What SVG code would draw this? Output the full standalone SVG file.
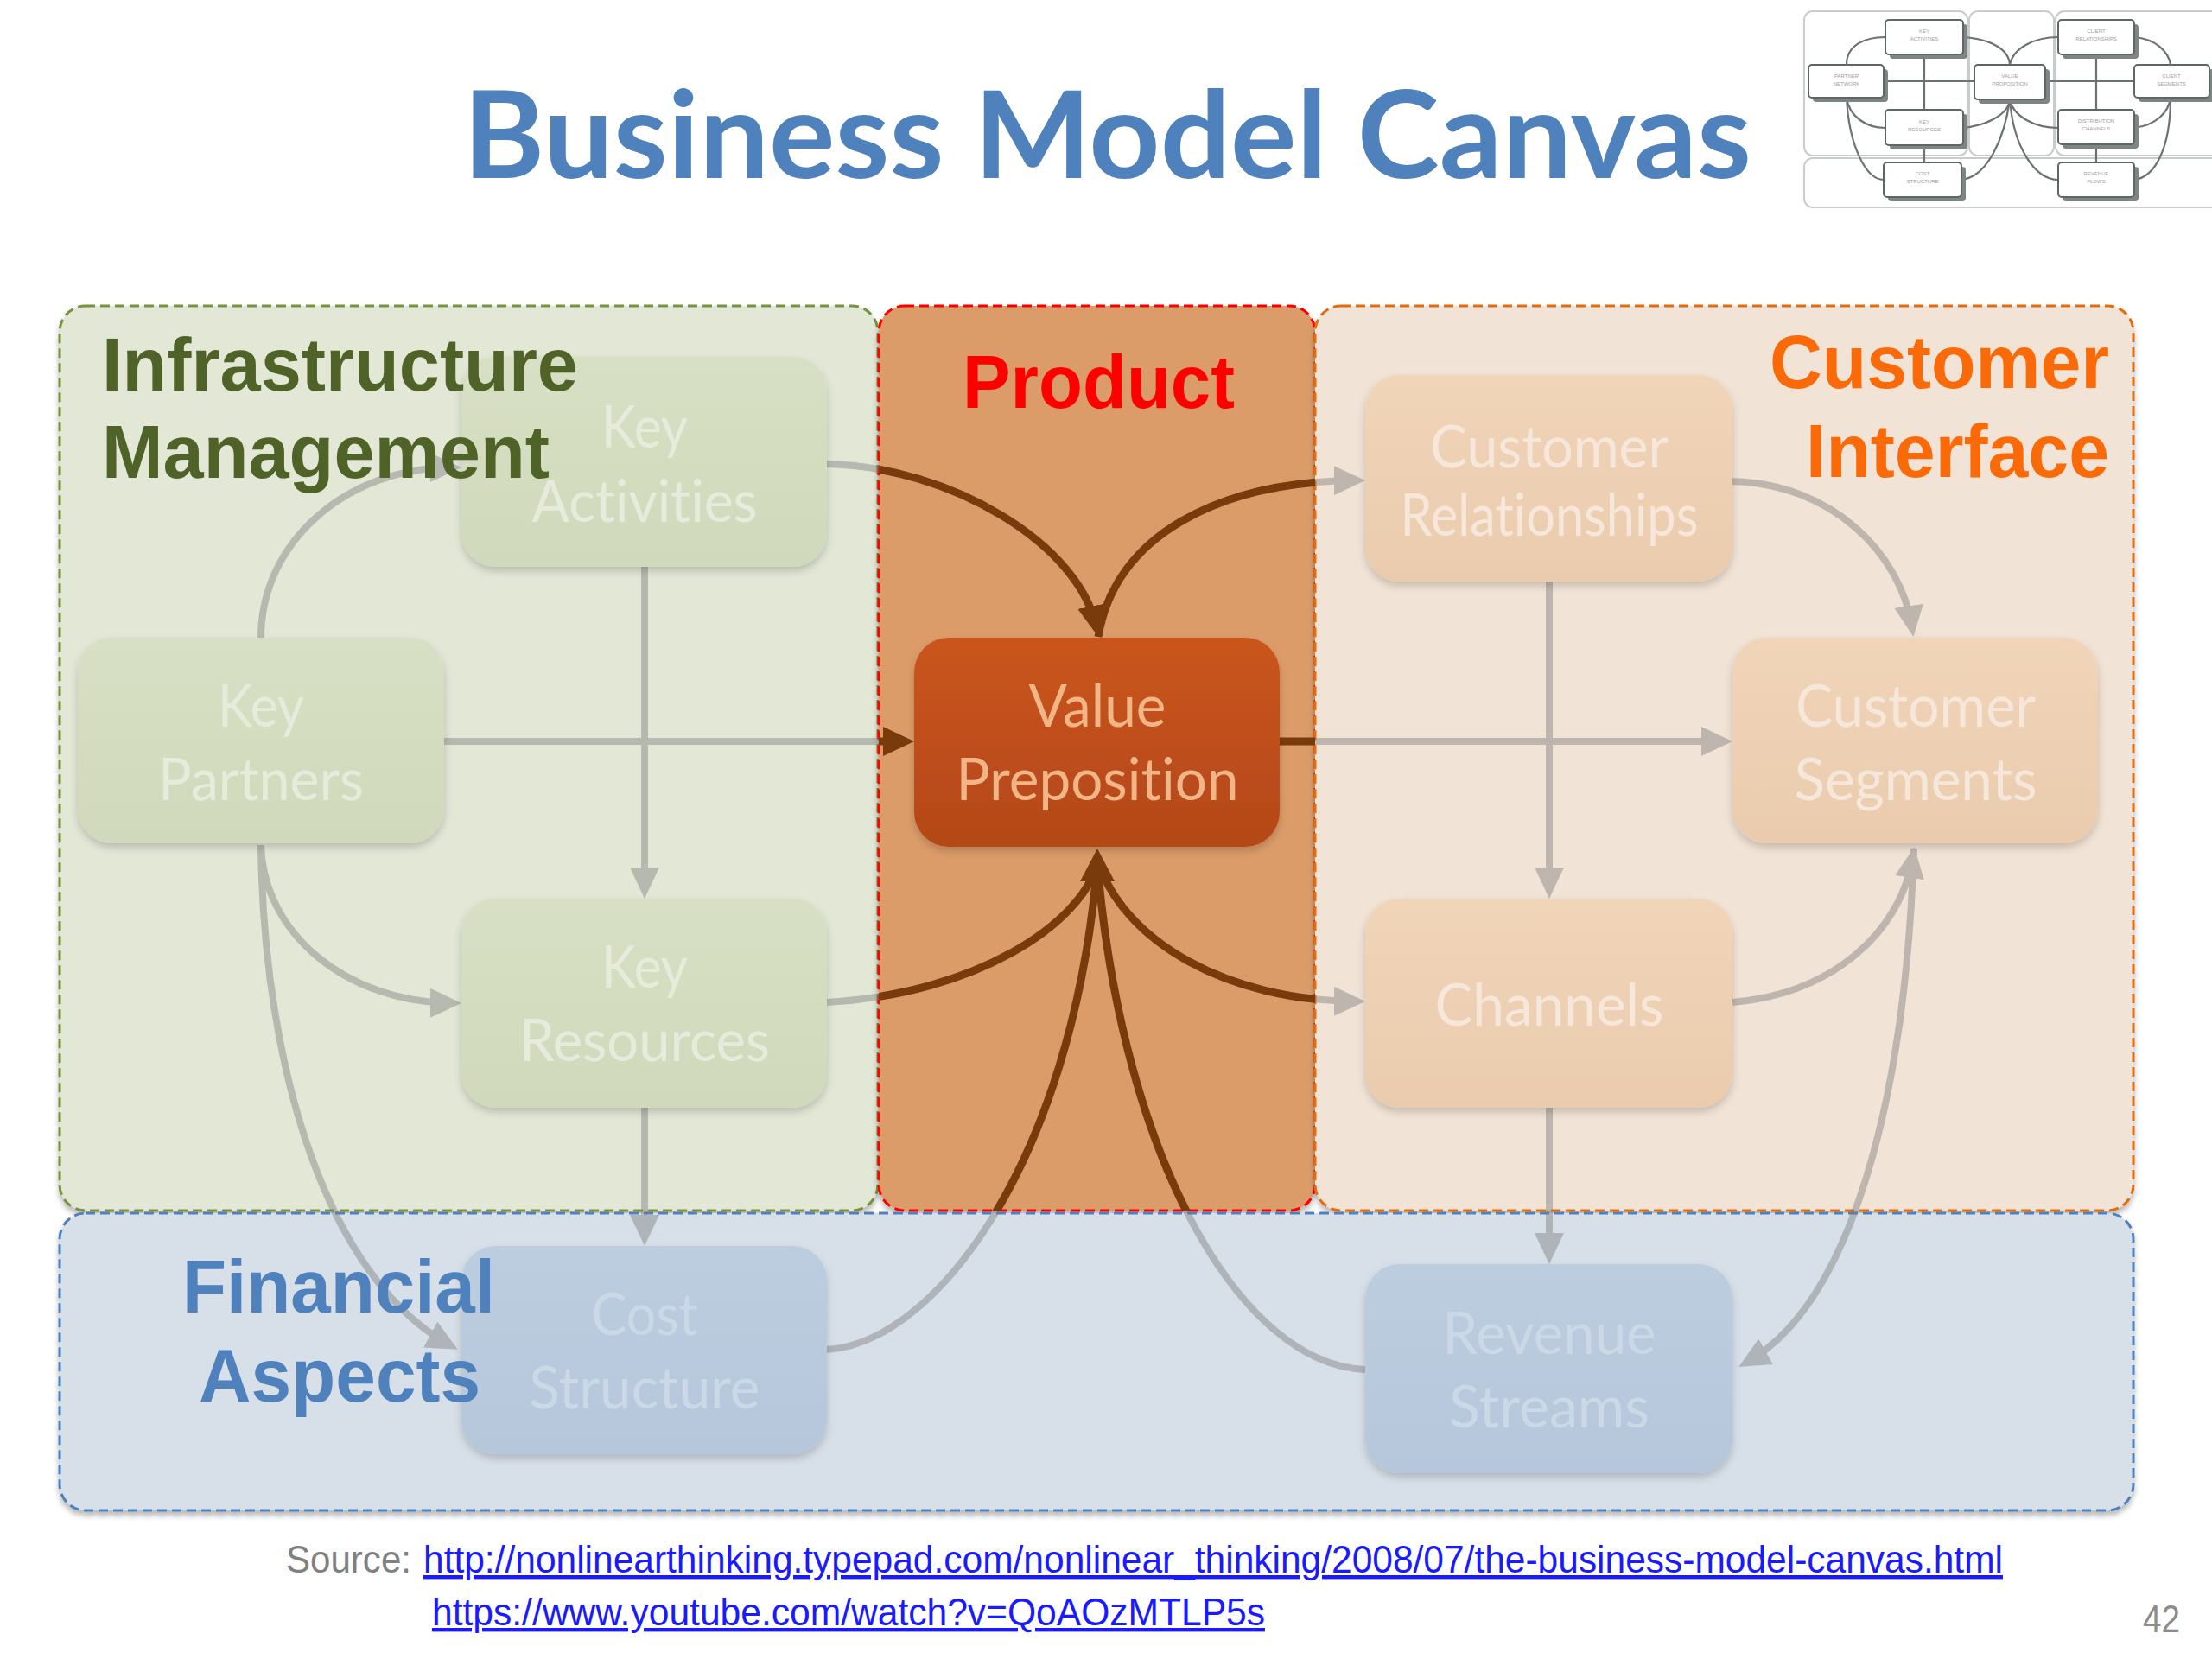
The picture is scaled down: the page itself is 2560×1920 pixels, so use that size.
<svg xmlns="http://www.w3.org/2000/svg" xmlns:xlink="http://www.w3.org/1999/xlink" width="2560" height="1920" viewBox="0 0 2560 1920">
<style>
.title{font-family:Lato,"Open Sans","Liberation Sans",sans-serif;font-weight:700;font-size:140px;fill:#4f81bd}
.head{font-family:"Liberation Sans",Arial,sans-serif;font-weight:700;font-size:88px}
.lbl{font-family:Lato,"Open Sans","Liberation Sans",sans-serif;font-weight:400;font-size:68px;text-anchor:middle;font-variant-ligatures:none}
.g-lbl{fill:#e6ebdb}
.o-lbl{fill:#f6e7da}
.b-lbl{fill:#cbd8e6}
.v-lbl{fill:#f1b586}
.panel{stroke-width:3;stroke-dasharray:11 6}
.foot{font-family:"Liberation Sans",Arial,sans-serif;font-size:44px}
.mini{fill:#ffffff;stroke:#5e6666;stroke-width:2}
.minish{fill:#7d8585}
.minitx{font-family:"Liberation Sans",Arial,sans-serif;font-size:6px;fill:#9aa0a0;text-anchor:middle}
.frame{fill:#ffffff;stroke:#c8cccc;stroke-width:2}
.mc{fill:none;stroke:#6b7272;stroke-width:2.2}
</style>
<defs>
<filter id="pshadow" x="-5%" y="-5%" width="110%" height="115%">
<feDropShadow dx="0" dy="5" stdDeviation="3" flood-color="#000" flood-opacity="0.28"/>
</filter>
<filter id="nshadow" x="-10%" y="-10%" width="120%" height="130%">
<feDropShadow dx="0" dy="5" stdDeviation="5" flood-color="#000" flood-opacity="0.18"/>
</filter>
<linearGradient id="gVP" x1="0" y1="0" x2="0" y2="1"><stop offset="0" stop-color="#ca551f"/><stop offset="1" stop-color="#b44818"/></linearGradient>
<linearGradient id="gGreen" x1="0" y1="0" x2="0" y2="1"><stop offset="0" stop-color="#d7e0c4"/><stop offset="1" stop-color="#d0d9bb"/></linearGradient>
<linearGradient id="gOr" x1="0" y1="0" x2="0" y2="1"><stop offset="0" stop-color="#f1d5b9"/><stop offset="1" stop-color="#eacbae"/></linearGradient>
<linearGradient id="gBlue" x1="0" y1="0" x2="0" y2="1"><stop offset="0" stop-color="#bccde0"/><stop offset="1" stop-color="#b6c7db"/></linearGradient>
<clipPath id="prodClip"><rect x="1017" y="354" width="505" height="1047" rx="30"/></clipPath>
<marker id="ag" markerUnits="userSpaceOnUse" markerWidth="36" markerHeight="34" viewBox="0 0 36 34" refX="26" refY="17" orient="auto"><path d="M0,0 L36,17 L0,34 z" fill="#7a7a7a"/></marker>
<marker id="ab" markerUnits="userSpaceOnUse" markerWidth="36" markerHeight="34" viewBox="0 0 36 34" refX="26" refY="17" orient="auto"><path d="M0,0 L36,17 L0,34 z" fill="#7a3b0c"/></marker>
<path id="c_kp_ka" d="M 302 738 C 302 628 400 541 524 541"/>
<path id="c_ka_vp" d="M 957 537 C 1100 540 1250 630 1269 727"/>
<path id="c_vp_cr" d="M 1271 737 C 1290 620 1410 557 1570 556"/>
<path id="c_kp_vp" d="M 514 858 L 1048 858"/>
<path id="c_vp_cs" d="M 1481 858 L 1995 858"/>
<path id="c_ka_kr" d="M 746 656 L 746 1030"/>
<path id="c_cr_ch" d="M 1793 673 L 1793 1030"/>
<path id="c_cr_cs" d="M 2005 557 C 2120 560 2200 640 2213 727"/>
<path id="c_kp_kr" d="M 302 978 C 305 1080 400 1160 524 1161"/>
<path id="c_kp_cost" d="M 302 978 C 305 1240 380 1480 521 1557"/>
<path id="c_kr_vp" d="M 957 1160 C 1130 1150 1250 1070 1270 1000"/>
<path id="c_vp_ch" d="M 1270 995 C 1300 1090 1420 1158 1570 1159"/>
<path id="c_cost_vp" d="M 957 1562 C 1080 1555 1240 1350 1270 1000"/>
<path id="c_rs_vp" d="M 1580 1585 C 1440 1580 1300 1350 1270 1000"/>
<path id="c_ch_cs" d="M 2005 1160 C 2120 1150 2200 1080 2214 990"/>
<path id="c_cs_rs" d="M 2215 982 C 2205 1280 2140 1510 2021 1577"/>
<path id="c_ch_rs" d="M 1793 1282 L 1793 1453"/>
<path id="c_kr_cost" d="M 746 1282 L 746 1432"/>
</defs>

<rect x="0" y="0" width="2560" height="1920" fill="#ffffff"/>

<g id="panels">
<rect id="panel-infrastructure" class="panel" x="69" y="354" width="947" height="1047" rx="30" fill="#e2e7d6" stroke="#77933c" filter="url(#pshadow)"/>
<rect id="panel-product" class="panel" x="1017" y="354" width="505" height="1047" rx="30" fill="#dc9c69" stroke="#ff0000" filter="url(#pshadow)"/>
<rect id="panel-customer" class="panel" x="1522" y="354" width="947" height="1047" rx="30" fill="#f1e3d5" stroke="#e46c0a" filter="url(#pshadow)"/>
<rect id="panel-financial" class="panel" x="69" y="1404" width="2400" height="344" rx="30" fill="#d7dfe8" stroke="#4f81bd" filter="url(#pshadow)"/>
</g>

<g id="connectors" fill="none">
<g id="connectors-gray" opacity="0.42" stroke="#7a7a7a" stroke-width="8">
<use xlink:href="#c_kp_ka" marker-end="url(#ag)"/>
<use xlink:href="#c_ka_vp" marker-end="url(#ag)"/>
<use xlink:href="#c_vp_cr" marker-end="url(#ag)"/>
<use xlink:href="#c_kp_vp" marker-end="url(#ag)"/>
<use xlink:href="#c_vp_cs" marker-end="url(#ag)"/>
<use xlink:href="#c_ka_kr" marker-end="url(#ag)"/>
<use xlink:href="#c_cr_ch" marker-end="url(#ag)"/>
<use xlink:href="#c_cr_cs" marker-end="url(#ag)"/>
<use xlink:href="#c_kp_kr" marker-end="url(#ag)"/>
<use xlink:href="#c_kp_cost" marker-end="url(#ag)"/>
<use xlink:href="#c_kr_vp"/>
<use xlink:href="#c_vp_ch" marker-end="url(#ag)"/>
<use xlink:href="#c_cost_vp"/>
<use xlink:href="#c_rs_vp"/>
<use xlink:href="#c_ch_cs" marker-end="url(#ag)"/>
<use xlink:href="#c_cs_rs" marker-end="url(#ag)"/>
<use xlink:href="#c_ch_rs" marker-end="url(#ag)"/>
<use xlink:href="#c_kr_cost" marker-end="url(#ag)"/>
</g>
<g id="connectors-brown" clip-path="url(#prodClip)" stroke="#7a3b0c" stroke-width="9">
<use xlink:href="#c_ka_vp" marker-end="url(#ab)"/>
<use xlink:href="#c_vp_cr"/>
<use xlink:href="#c_kp_vp" marker-end="url(#ab)"/>
<use xlink:href="#c_vp_cs"/>
<use xlink:href="#c_kr_vp"/>
<use xlink:href="#c_vp_ch"/>
<use xlink:href="#c_cost_vp"/>
<use xlink:href="#c_rs_vp"/>
<path d="M 1270 982 L 1290 1020 L 1250 1020 Z" fill="#7a3b0c" stroke="none"/>
</g>
</g>

<g id="node-key-activities" filter="url(#nshadow)">
<rect x="534" y="413" width="423" height="243" rx="40" fill="url(#gGreen)"/>
<text class="lbl g-lbl" x="746" y="518" textLength="100" lengthAdjust="spacingAndGlyphs">Key</text>
<text class="lbl g-lbl" x="746" y="604" textLength="261" lengthAdjust="spacingAndGlyphs">Activities</text>
</g>
<g id="node-key-partners" filter="url(#nshadow)">
<rect x="90" y="738" width="424" height="238" rx="40" fill="url(#gGreen)"/>
<text class="lbl g-lbl" x="302" y="841" textLength="100" lengthAdjust="spacingAndGlyphs">Key</text>
<text class="lbl g-lbl" x="302" y="926" textLength="238" lengthAdjust="spacingAndGlyphs">Partners</text>
</g>
<g id="node-key-resources" filter="url(#nshadow)">
<rect x="534" y="1040" width="423" height="242" rx="40" fill="url(#gGreen)"/>
<text class="lbl g-lbl" x="746" y="1143" textLength="100" lengthAdjust="spacingAndGlyphs">Key</text>
<text class="lbl g-lbl" x="746" y="1228" textLength="290" lengthAdjust="spacingAndGlyphs">Resources</text>
</g>
<g id="node-value-preposition" filter="url(#nshadow)">
<rect x="1058" y="738" width="423" height="242" rx="40" fill="url(#gVP)"/>
<text class="lbl v-lbl" x="1270" y="841" textLength="159" lengthAdjust="spacingAndGlyphs">Value</text>
<text class="lbl v-lbl" x="1270" y="926" textLength="327" lengthAdjust="spacingAndGlyphs">Preposition</text>
</g>
<g id="node-customer-relationships" filter="url(#nshadow)">
<rect x="1580" y="434" width="425" height="239" rx="40" fill="url(#gOr)"/>
<text class="lbl o-lbl" x="1793" y="541" textLength="276" lengthAdjust="spacingAndGlyphs">Customer</text>
<text class="lbl o-lbl" x="1793" y="620" textLength="345" lengthAdjust="spacingAndGlyphs">Relationships</text>
</g>
<g id="node-customer-segments" filter="url(#nshadow)">
<rect x="2005" y="738" width="423" height="238" rx="40" fill="url(#gOr)"/>
<text class="lbl o-lbl" x="2217" y="841" textLength="278" lengthAdjust="spacingAndGlyphs">Customer</text>
<text class="lbl o-lbl" x="2217" y="926" textLength="281" lengthAdjust="spacingAndGlyphs">Segments</text>
</g>
<g id="node-channels" filter="url(#nshadow)">
<rect x="1580" y="1040" width="425" height="242" rx="40" fill="url(#gOr)"/>
<text class="lbl o-lbl" x="1793" y="1187" textLength="265" lengthAdjust="spacingAndGlyphs">Channels</text>
</g>
<g id="node-cost-structure" filter="url(#nshadow)">
<rect x="534" y="1442" width="423" height="241" rx="40" fill="url(#gBlue)"/>
<text class="lbl b-lbl" x="746" y="1545" textLength="123" lengthAdjust="spacingAndGlyphs">Cost</text>
<text class="lbl b-lbl" x="746" y="1630" textLength="267" lengthAdjust="spacingAndGlyphs">Structure</text>
</g>
<g id="node-revenue-streams" filter="url(#nshadow)">
<rect x="1580" y="1463" width="425" height="242" rx="40" fill="url(#gBlue)"/>
<text class="lbl b-lbl" x="1793" y="1567" textLength="247" lengthAdjust="spacingAndGlyphs">Revenue</text>
<text class="lbl b-lbl" x="1793" y="1652" textLength="232" lengthAdjust="spacingAndGlyphs">Streams</text>
</g>

<g id="headings">
<text class="head" fill="#4f6228" x="118" y="452" textLength="551" lengthAdjust="spacingAndGlyphs">Infrastructure</text>
<text class="head" fill="#4f6228" x="118" y="553" textLength="518" lengthAdjust="spacingAndGlyphs">Management</text>
<text class="head" fill="#ff0000" x="1114" y="472" textLength="315" lengthAdjust="spacingAndGlyphs">Product</text>
<text class="head" fill="#fb6a08" x="2048" y="449" textLength="393" lengthAdjust="spacingAndGlyphs">Customer</text>
<text class="head" fill="#fb6a08" x="2090" y="552" textLength="351" lengthAdjust="spacingAndGlyphs">Interface</text>
<text class="head" fill="#4f81bd" x="211" y="1519" textLength="362" lengthAdjust="spacingAndGlyphs">Financial</text>
<text class="head" fill="#4f81bd" x="230" y="1622" textLength="326" lengthAdjust="spacingAndGlyphs">Aspects</text>
</g>

<text id="title" class="title" x="536" y="206" textLength="1491" lengthAdjust="spacingAndGlyphs">Business Model Canvas</text>

<g id="thumbnail">
<rect class="frame" x="2088" y="13" width="189" height="167" rx="10"/>
<rect class="frame" x="2279" y="13" width="98" height="167" rx="10"/>
<rect class="frame" x="2379" y="13" width="190" height="167" rx="10"/>
<rect class="frame" x="2088" y="183" width="481" height="57" rx="10"/>
<g>
<path class="mc" d="M 2137 75 C 2137 52 2158 43 2182 43"/>
<path class="mc" d="M 2137 113 C 2140 135 2160 148 2182 148"/>
<path class="mc" d="M 2137 113 C 2140 170 2160 208 2180 208"/>
<path class="mc" d="M 2180 94 L 2285 94"/>
<path class="mc" d="M 2227 63 L 2227 127"/>
<path class="mc" d="M 2227 168 L 2227 188"/>
<path class="mc" d="M 2272 43 C 2300 45 2325 55 2326 75"/>
<path class="mc" d="M 2326 75 C 2330 55 2355 43 2382 43"/>
<path class="mc" d="M 2367 94 L 2470 94"/>
<path class="mc" d="M 2272 148 C 2300 145 2325 132 2326 115"/>
<path class="mc" d="M 2270 208 C 2300 205 2320 160 2326 115"/>
<path class="mc" d="M 2326 115 C 2330 135 2355 148 2382 148"/>
<path class="mc" d="M 2326 115 C 2330 170 2355 208 2382 208"/>
<path class="mc" d="M 2426 63 L 2426 127"/>
<path class="mc" d="M 2426 167 L 2426 188"/>
<path class="mc" d="M 2470 43 C 2495 45 2510 60 2512 75"/>
<path class="mc" d="M 2470 148 C 2495 145 2510 130 2512 113"/>
<path class="mc" d="M 2512 113 C 2512 170 2495 205 2470 208"/>
</g>
<g>
<rect class="minish" x="2187" y="28" width="90" height="40" rx="4"/><rect class="mini" x="2182" y="23" width="90" height="40" rx="4"/>
<text class="minitx" x="2227" y="38">KEY</text><text class="minitx" x="2227" y="47">ACTIVITIES</text>
<rect class="minish" x="2098" y="80" width="87" height="38" rx="4"/><rect class="mini" x="2093" y="75" width="87" height="38" rx="4"/>
<text class="minitx" x="2137" y="90">PARTNER</text><text class="minitx" x="2137" y="99">NETWORK</text>
<rect class="minish" x="2290" y="80" width="82" height="40" rx="4"/><rect class="mini" x="2285" y="75" width="82" height="40" rx="4"/>
<text class="minitx" x="2326" y="90">VALUE</text><text class="minitx" x="2326" y="99">PROPOSITION</text>
<rect class="minish" x="2387" y="28" width="88" height="40" rx="4"/><rect class="mini" x="2382" y="23" width="88" height="40" rx="4"/>
<text class="minitx" x="2426" y="38">CLIENT</text><text class="minitx" x="2426" y="47">RELATIONSHIPS</text>
<rect class="minish" x="2475" y="80" width="87" height="38" rx="4"/><rect class="mini" x="2470" y="75" width="87" height="38" rx="4"/>
<text class="minitx" x="2513" y="90">CLIENT</text><text class="minitx" x="2513" y="99">SEGMENTS</text>
<rect class="minish" x="2187" y="132" width="90" height="41" rx="4"/><rect class="mini" x="2182" y="127" width="90" height="41" rx="4"/>
<text class="minitx" x="2227" y="143">KEY</text><text class="minitx" x="2227" y="152">RESOURCES</text>
<rect class="minish" x="2387" y="132" width="88" height="40" rx="4"/><rect class="mini" x="2382" y="127" width="88" height="40" rx="4"/>
<text class="minitx" x="2426" y="142">DISTRIBUTION</text><text class="minitx" x="2426" y="151">CHANNELS</text>
<rect class="minish" x="2185" y="193" width="90" height="40" rx="4"/><rect class="mini" x="2180" y="188" width="90" height="40" rx="4"/>
<text class="minitx" x="2225" y="203">COST</text><text class="minitx" x="2225" y="212">STRUCTURE</text>
<rect class="minish" x="2387" y="193" width="88" height="40" rx="4"/><rect class="mini" x="2382" y="188" width="88" height="40" rx="4"/>
<text class="minitx" x="2426" y="203">REVENUE</text><text class="minitx" x="2426" y="212">FLOWS</text>
</g>
</g>

<g id="footer">
<text class="foot" fill="#808080" x="331" y="1820" textLength="145" lengthAdjust="spacingAndGlyphs">Source:</text>
<text class="foot" fill="#1a1aff" text-decoration="underline" x="490" y="1820" textLength="1828" lengthAdjust="spacingAndGlyphs">http://nonlinearthinking.typepad.com/nonlinear_thinking/2008/07/the-business-model-canvas.html</text>
<text class="foot" fill="#1a1aff" text-decoration="underline" x="500" y="1881" textLength="964" lengthAdjust="spacingAndGlyphs">https://www.youtube.com/watch?v=QoAOzMTLP5s</text>
<text class="foot" fill="#8c8c8c" x="2480" y="1889" font-size="40" textLength="43" lengthAdjust="spacingAndGlyphs">42</text>
</g>
</svg>
